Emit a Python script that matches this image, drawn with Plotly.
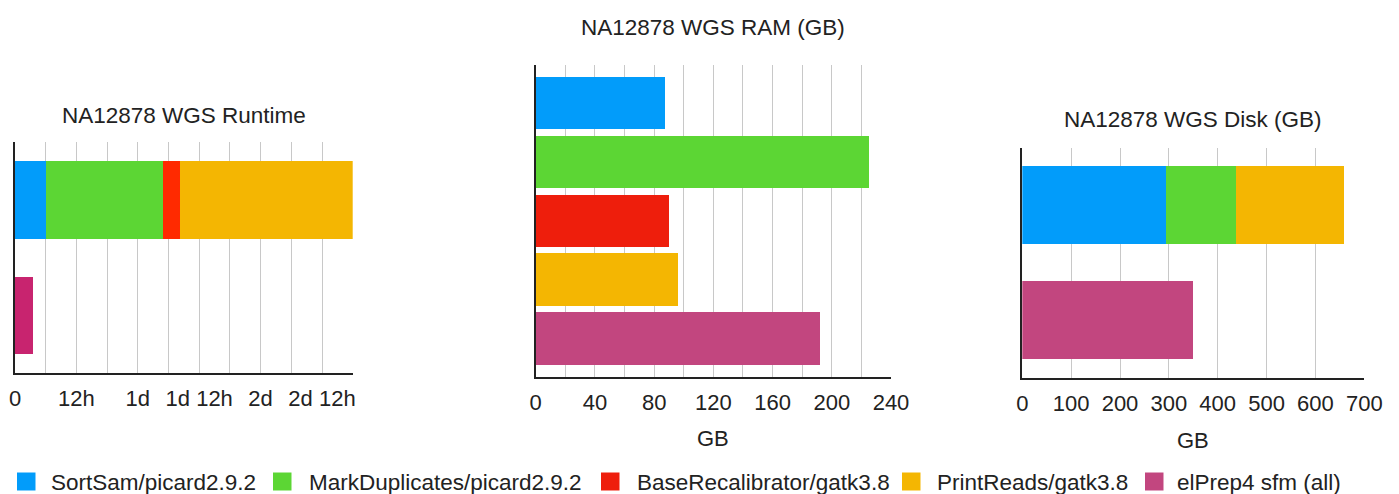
import plotly.graph_objects as go

W, H = 1399, 494

series = ["SortSam/picard2.9.2", "MarkDuplicates/picard2.9.2",
          "BaseRecalibrator/gatk3.8", "PrintReads/gatk3.8", "elPrep4 sfm (all)"]
colors = ["#029CFA", "#5CD634", "#EE1E0C", "#F4B602", "#C2467F"]
runtime_colors = ["#029CFA", "#5CD634", "#FF2A00", "#F4B602", "#C8246F"]

# Runtime in hours (row 0 = GATK pipeline stages stacked, row 1 = elPrep)
runtime_hours = [6.0, 22.9, 3.4, 33.7, 3.5]
runtime_rows = [0, 0, 0, 0, 1]
runtime_tickvals = [0, 6, 12, 18, 24, 30, 36, 42, 48, 54, 60, 66]
runtime_ticktext = ["0", "", "12h", "", "1d", "", "1d 12h", "", "2d", "", "2d 12h", ""]

# RAM in GB (one bar per tool)
ram_gb = [86.9, 224.9, 89.6, 95.7, 192.0]
ram_rows = [0, 1, 2, 3, 4]

# Disk in GB (row 0 = GATK stacked, row 1 = elPrep); BaseRecalibrator has none
disk_gb = [294, 145, None, 220, 349]
disk_rows = [0, 0, None, 0, 1]

titles = ["NA12878 WGS Runtime", "NA12878 WGS RAM (GB)", "NA12878 WGS Disk (GB)"]

# layout of the hand-drawn legend (pixel positions of each swatch's left edge / label start)
legend_swatch_left = [17, 273, 601, 902, 1145]
legend_text_left = [49, 307, 635, 935, 1175]

FONT = "Liberation Sans, Arial, sans-serif"
TXT = "#222222"
GRID = "#C8C8C8"

def px(x):
    return x / W

def py(y):
    return 1 - y / H

fig = go.Figure()

for i, name in enumerate(series):
    fig.add_trace(go.Bar(
        x=[runtime_hours[i]], y=[runtime_rows[i]], orientation="h",
        name=name, legendgroup=name, showlegend=False,
        marker=dict(color=runtime_colors[i], line=dict(width=0)),
        width=0.67, xaxis="x", yaxis="y", hoverinfo="x+name"))
for i, name in enumerate(series):
    fig.add_trace(go.Bar(
        x=[ram_gb[i]], y=[ram_rows[i]], orientation="h",
        name=name, legendgroup=name, showlegend=False,
        marker=dict(color=colors[i], line=dict(width=0)),
        width=0.89, xaxis="x2", yaxis="y2", hoverinfo="x+name"))
for i, name in enumerate(series):
    if disk_gb[i] is None:
        continue
    fig.add_trace(go.Bar(
        x=[disk_gb[i]], y=[disk_rows[i]], orientation="h",
        name=name, legendgroup=name, showlegend=False,
        marker=dict(color=colors[i], line=dict(width=0)),
        width=0.68, xaxis="x3", yaxis="y3", hoverinfo="x+name"))

tickfont = dict(family=FONT, size=22, color=TXT)

def xax(domain, rng, **kw):
    d = dict(domain=domain, range=rng, showgrid=True, gridcolor=GRID, gridwidth=1,
             zeroline=False, showline=True, linecolor="#222222", linewidth=1.5,
             ticks="", tickfont=tickfont, ticklabelstandoff=5, fixedrange=True,
             automargin=False)
    d.update(kw)
    return d

def yax(domain, rng, anchor):
    return dict(domain=domain, range=rng, showgrid=False, zeroline=False,
                showticklabels=False, showline=True, linecolor="#222222",
                linewidth=1.5, ticks="", anchor=anchor, fixedrange=True,
                automargin=False)

fig.update_layout(
    width=W, height=H,
    margin=dict(l=0, r=0, t=0, b=0, autoexpand=False),
    paper_bgcolor="white", plot_bgcolor="white",
    barmode="stack",
    bargap=0,
    font=dict(family=FONT, color=TXT),
    showlegend=False,
    xaxis=xax([px(15), px(352.7)], [0, 66], anchor="y",
              tickmode="array", tickvals=runtime_tickvals, ticktext=runtime_ticktext),
    yaxis=yax([py(373.3), py(141.7)], [1.5, -0.5], "x"),
    xaxis2=xax([px(535.7), px(891)], [0, 240], anchor="y2",
               tick0=0, dtick=40,
               minor=dict(dtick=20, showgrid=True, gridcolor=GRID, gridwidth=1)),
    yaxis2=yax([py(376.7), py(65)], [4.65, -0.65], "x2"),
    xaxis3=xax([px(1022.3), px(1364.3)], [0, 700], anchor="y3", tick0=0, dtick=100),
    yaxis3=yax([py(377.7), py(148.3)], [1.5, -0.5], "x3"),
)

ann = []
tfont = dict(family=FONT, size=22.5, color=TXT)
ann.append(dict(text=titles[0], x=px(184), y=py(115), xref="paper", yref="paper",
                showarrow=False, font=tfont, xanchor="center", yanchor="middle"))
ann.append(dict(text=titles[1], x=px(713), y=py(27), xref="paper", yref="paper",
                showarrow=False, font=tfont, xanchor="center", yanchor="middle"))
ann.append(dict(text=titles[2], x=px(1193), y=py(120), xref="paper", yref="paper",
                showarrow=False, font=tfont, xanchor="center", yanchor="middle"))
ann.append(dict(text="GB", x=px(713), y=py(438), xref="paper", yref="paper",
                showarrow=False, font=tickfont, xanchor="center", yanchor="middle"))
ann.append(dict(text="GB", x=px(1193), y=py(440), xref="paper", yref="paper",
                showarrow=False, font=tickfont, xanchor="center", yanchor="middle"))

shapes = []
lfont = dict(family=FONT, size=22.5, color=TXT)
for i, name in enumerate(series):
    shapes.append(dict(type="rect", xref="paper", yref="paper",
                       x0=px(legend_swatch_left[i]), x1=px(legend_swatch_left[i] + 18.5),
                       y0=py(490.5), y1=py(472.5),
                       fillcolor=colors[i], line=dict(width=0)))
    ann.append(dict(text=name, x=px(legend_text_left[i]), y=py(482), xref="paper",
                    yref="paper", showarrow=False, font=lfont,
                    xanchor="left", yanchor="middle"))

fig.update_layout(annotations=ann, shapes=shapes)

fig.write_html("out.html", config={"displayModeBar": False},
               post_script="document.body.style.margin='0';document.body.style.overflow='hidden';")
